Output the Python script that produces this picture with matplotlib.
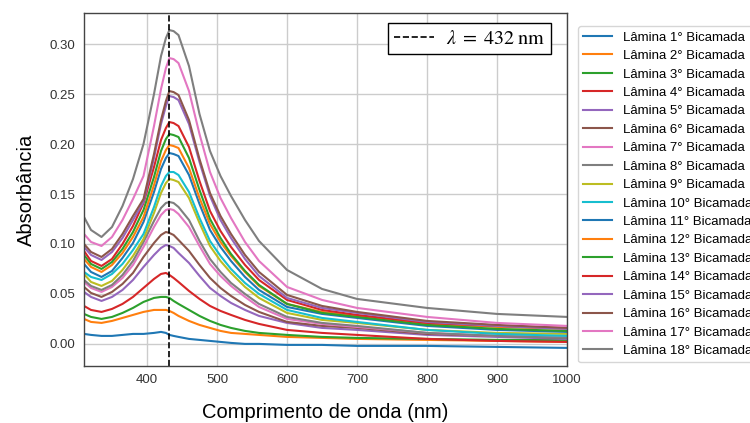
import matplotlib
matplotlib.use("Agg")
import matplotlib.pyplot as plt
from matplotlib.lines import Line2D

plt.rcParams["font.family"] = ["Liberation Sans", "DejaVu Sans"]
plt.rcParams["mathtext.fontset"] = "stix"

wl = [310, 320, 335, 350, 365, 380, 395, 410, 420, 427, 432, 438, 445, 460, 475, 490, 505, 520, 540, 560, 600, 650, 700, 800, 900, 1000]

# absorbance per bilayer (1..18)
a01 = [.010, .009, .008, .008, .009, .010, .010, .011, .012, .011, .009, .008, .007, .005, .004, .003, .002, .001, .000, .000, -.001, -.001, -.002, -.002, -.003, -.004]
a02 = [.025, .022, .021, .023, .026, .029, .032, .034, .034, .034, .033, .031, .028, .023, .019, .016, .013, .011, .010, .009, .007, .006, .005, .004, .003, .002]
a03 = [.030, .027, .025, .027, .031, .036, .042, .046, .047, .047, .046, .043, .040, .034, .028, .023, .019, .016, .013, .011, .009, .007, .006, .005, .004, .004]
a04 = [.038, .034, .032, .035, .040, .047, .056, .065, .070, .071, .069, .066, .062, .053, .045, .038, .033, .029, .024, .020, .014, .011, .009, .005, .003, .002]
a05 = [.052, .047, .043, .047, .054, .064, .077, .089, .096, .099, .098, .096, .091, .081, .068, .056, .048, .041, .034, .028, .021, .016, .014, .009, .007, .005]
a06 = [.057, .051, .047, .052, .060, .071, .087, .101, .109, .112, .111, .109, .104, .093, .079, .066, .056, .048, .039, .032, .022, .018, .016, .010, .008, .006]
a07 = [.062, .056, .052, .057, .066, .079, .097, .117, .129, .134, .135, .134, .130, .117, .098, .080, .068, .058, .047, .037, .025, .020, .017, .011, .008, .007]
a08 = [.064, .058, .054, .059, .069, .083, .102, .123, .136, .141, .142, .141, .137, .124, .103, .085, .072, .061, .050, .040, .027, .021, .018, .011, .008, .006]
a09 = [.070, .062, .058, .063, .074, .088, .105, .131, .151, .161, .165, .164, .162, .146, .121, .098, .083, .071, .057, .046, .031, .024, .021, .014, .011, .010]
a10 = [.072, .067, .064, .070, .080, .094, .110, .137, .158, .168, .172, .172, .169, .152, .126, .103, .088, .075, .061, .050, .034, .026, .022, .014, .010, .008]
a11 = [.080, .072, .067, .073, .086, .101, .122, .152, .175, .186, .191, .190, .188, .169, .140, .114, .097, .083, .067, .054, .037, .030, .026, .018, .014, .012]
a12 = [.085, .077, .072, .079, .091, .107, .127, .159, .183, .194, .199, .198, .196, .176, .146, .120, .102, .088, .072, .058, .040, .032, .028, .020, .017, .015]
a13 = [.089, .080, .075, .082, .095, .112, .134, .167, .193, .205, .210, .209, .207, .186, .154, .125, .106, .090, .073, .059, .040, .031, .027, .019, .015, .013]
a14 = [.093, .083, .078, .085, .100, .118, .141, .177, .204, .216, .222, .221, .218, .197, .163, .133, .113, .097, .079, .064, .044, .034, .029, .021, .018, .016]
a15 = [.097, .089, .084, .092, .106, .124, .142, .186, .220, .238, .248, .247, .244, .220, .182, .148, .124, .106, .085, .068, .046, .036, .031, .022, .018, .015]
a16 = [.100, .092, .087, .095, .110, .128, .145, .190, .224, .243, .253, .252, .249, .224, .185, .151, .128, .110, .089, .072, .049, .038, .032, .023, .019, .016]
a17 = [.110, .102, .098, .107, .124, .145, .168, .218, .255, .276, .286, .285, .281, .253, .210, .172, .146, .126, .102, .083, .057, .044, .036, .027, .021, .018]
a18 = [.127, .114, .107, .117, .138, .165, .200, .250, .288, .306, .314, .313, .309, .278, .230, .193, .168, .148, .124, .103, .074, .055, .045, .036, .030, .027]

series = [a01, a02, a03, a04, a05, a06, a07, a08, a09, a10, a11, a12, a13, a14, a15, a16, a17, a18]
labels = [f"Lâmina {i}° Bicamada" for i in range(1, 19)]
peak_nm = 432

fig = plt.figure(figsize=(7.5, 4.23), dpi=100)
ax = fig.add_axes([0.112, 0.135, 0.644, 0.834])

for i, (vals, lab) in enumerate(zip(series, labels)):
    ax.plot(wl, vals, color=f"C{i % 10}", lw=1.5, label=lab)
ax.axvline(peak_nm, color="k", ls="--", lw=1.2)

ax.set_xlim(310, 1000)
ax.set_ylim(-0.022, 0.331)
ax.set_xticks([400, 500, 600, 700, 800, 900, 1000])
ax.set_yticks([0.0, 0.05, 0.10, 0.15, 0.20, 0.25, 0.30])
ax.set_yticklabels([f"{v:.2f}" for v in ax.get_yticks()])
ax.grid(True, color="#cccccc", lw=1.0)
ax.set_axisbelow(True)
ax.tick_params(length=0, labelsize=9.5, labelcolor="#333333", pad=6)
for s in ax.spines.values():
    s.set_color("#444444"); s.set_linewidth(1.0)

ax.set_xlabel("Comprimento de onda (nm)", fontsize=14.5, labelpad=12)
ax.set_ylabel("Absorbância", fontsize=14.5, labelpad=10)

# legend sits outside the axes and runs off the right edge, as in the original
leg = ax.legend(loc="upper left", bbox_to_anchor=(1.023, 0.963), borderaxespad=0,
                fontsize=9.5, labelspacing=0.47, handlelength=2.2, frameon=True)
leg.get_frame().set_edgecolor("#cccccc")
ax.add_artist(leg)

h = Line2D([], [], color="k", ls="--", lw=1.2)
leg2 = ax.legend([h], [r"$\lambda\;=\;432\;\mathrm{nm}$"], loc="upper right", bbox_to_anchor=(0.967, 0.972),
                 borderaxespad=0, fontsize=14.5, fancybox=False, handlelength=2.0,
                 handletextpad=0.6, borderpad=0.3)
leg2.get_frame().set_edgecolor("k")
leg2.get_frame().set_alpha(1)

fig.savefig("out.png", dpi=100)
